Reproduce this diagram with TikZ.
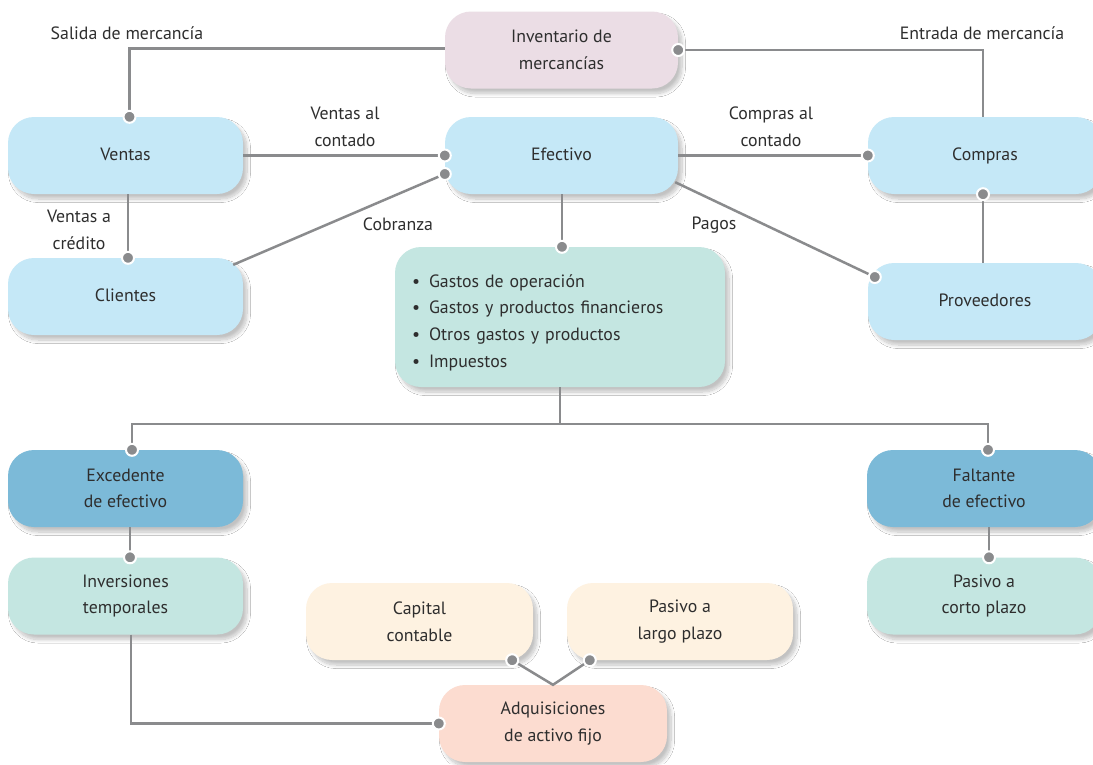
\documentclass[tikz,border=0pt]{standalone}
\usepackage{fontspec}
\setmainfont{PT Sans}
\usetikzlibrary{shadows.blur,calc}
\definecolor{lblue}{HTML}{C5E8F7}
\definecolor{lpink}{HTML}{EBDDE5}
\definecolor{lteal}{HTML}{C4E6E1}
\definecolor{mblue}{HTML}{7CBAD8}
\definecolor{lcream}{HTML}{FEF2E1}
\definecolor{lsalmon}{HTML}{FCDCD0}
\definecolor{lgray}{HTML}{8A8B8D}
\definecolor{txt}{HTML}{2E2E2E}
\tikzset{
  box/.style={rectangle, rounded corners=26pt, minimum width=235pt, minimum height=77pt,
    align=center, text=txt, font=\fontsize{17.8}{26.7}\selectfont,
    blur shadow={shadow xshift=4pt, shadow yshift=-5pt, shadow blur radius=3.5pt, shadow blur steps=10, shadow opacity=24}},
  one/.style={text height=12.5pt, text depth=3.5pt},
  conn/.style={draw=lgray, line width=2.5pt},
  lbl/.style={text=txt, align=center, font=\fontsize{17.8}{26.7}\selectfont, inner sep=0pt},
  dotc/.style={circle, fill=lgray, draw=white, line width=2pt, minimum size=12pt, inner sep=0pt}
}
\begin{document}
\begin{tikzpicture}[x=1pt,y=-1pt]
\useasboundingbox (0,0) rectangle (1093,764);
\fill[white] (0,0) rectangle (1093,764);
% nodes
\node[box, fill=lpink, minimum width=233pt] (inv) at (561.5,50) {Inventario de\\mercancías};
\node[box, one, fill=lblue] (ventas) at (125.5,155.5) {Ventas};
\node[box, one, fill=lblue, minimum width=233pt] (efectivo) at (561.5,155.5) {Efectivo};
\node[box, one, fill=lblue, minimum width=234pt] (compras) at (985,155.5) {Compras};
\node[box, one, fill=lblue] (clientes) at (125.5,296.5) {Clientes};
\node[box, one, fill=lblue, minimum width=234pt] (proveedores) at (985,301.5) {Proveedores};
\node[box, fill=lteal, minimum width=330pt, minimum height=140pt, text width=296pt, inner xsep=17pt, align=left] (gastos) at (560,317)
  {\rule{0pt}{24pt}•\hspace{9pt}Gastos de operación\\•\hspace{9pt}Gastos y productos financieros\\•\hspace{9pt}Otros gastos y productos\\•\hspace{9pt}Impuestos};
\node[box, fill=mblue] (excedente) at (125.5,488.5) {Excedente\\de efectivo};
\node[box, fill=lteal] (inversiones) at (125.5,596) {Inversiones\\temporales};
\node[box, fill=mblue, minimum width=234pt] (faltante) at (984,488.5) {Faltante\\de efectivo};
\node[box, fill=lteal, minimum width=234pt] (pasivoc) at (984,596) {Pasivo a\\corto plazo};
\node[box, fill=lcream, minimum width=227pt] (capital) at (419.5,621.5) {Capital\\contable};
\node[box, fill=lcream, minimum width=226pt] (pasivol) at (680,621.5) {Pasivo a\\largo plazo};
\node[box, fill=lsalmon, minimum width=228pt] (adq) at (553,723.5) {Adquisiciones\\de activo fijo};
% coordinates
\coordinate (split) at (560,424);
% connectors
\draw[conn] ([yshift=1.5pt]inv.west) -| ([xshift=4pt]ventas.north);
\draw[conn] (inv.east) -| ([xshift=-2pt]compras.north);
\draw[conn] (ventas.east) -- (efectivo.west);
\draw[conn] ([xshift=-10pt,yshift=-7pt]clientes.north east) -- ([yshift=-18.5pt]efectivo.west);
\draw[conn] ([xshift=2.5pt]ventas.south) -- ([xshift=2.5pt]clientes.north);
\draw[conn] (efectivo.east) -- (compras.west);
\draw[conn] ([xshift=-3pt,yshift=12pt]efectivo.south east) -- ([xshift=7pt,yshift=24.5pt]proveedores.west);
\draw[conn] ([xshift=-2pt]proveedores.north) -- ([xshift=-2pt]compras.south);
\draw[conn] ([xshift=0.5pt]efectivo.south) -- ([xshift=2pt]gastos.north);
\draw[conn] (gastos.south) -- (split);
\draw[conn] ([xshift=6.5pt]excedente.north) |- (split) -| ([xshift=4pt]faltante.north);
\draw[conn] ([xshift=4.5pt]excedente.south) -- ([xshift=4.5pt]inversiones.north);
\draw[conn] ([xshift=5pt]faltante.south) -- ([xshift=5pt]pasivoc.north);
\draw[conn] ([xshift=5.5pt]inversiones.south) |- (adq.west);
\draw[conn] ([xshift=-21pt]capital.south east) -- (adq.north) -- ([xshift=23pt]pasivol.south west);
% dots
\node[dotc] at ([xshift=4pt]ventas.north) {};
\node[dotc] at (inv.east) {};
\node[dotc] at (efectivo.west) {};
\node[dotc] at ([yshift=-18.5pt]efectivo.west) {};
\node[dotc] at ([xshift=2.5pt]clientes.north) {};
\node[dotc] at (compras.west) {};
\node[dotc] at ([xshift=7pt,yshift=24.5pt]proveedores.west) {};
\node[dotc] at ([xshift=-2pt]compras.south) {};
\node[dotc] at ([xshift=2pt]gastos.north) {};
\node[dotc] at ([xshift=6.5pt]excedente.north) {};
\node[dotc] at ([xshift=4pt]faltante.north) {};
\node[dotc] at ([xshift=4.5pt]inversiones.north) {};
\node[dotc] at ([xshift=5pt]pasivoc.north) {};
\node[dotc] at (adq.west) {};
\node[dotc] at ([xshift=-21pt]capital.south east) {};
\node[dotc] at ([xshift=23pt]pasivol.south west) {};
% labels
\node[lbl] (l1) at (127,33) {Salida de mercancía};
\node[lbl] (l2) at (982,33) {Entrada de mercancía};
\node[lbl] (l3) at (345,127) {Ventas al\\contado};
\node[lbl] (l4) at (771,127) {Compras al\\contado};
\node[lbl] (l5) at (79,230) {Ventas a\\crédito};
\node[lbl] (l6) at (398,224) {Cobranza};
\node[lbl] (l7) at (714,225) {Pagos};
\end{tikzpicture}
\end{document}
